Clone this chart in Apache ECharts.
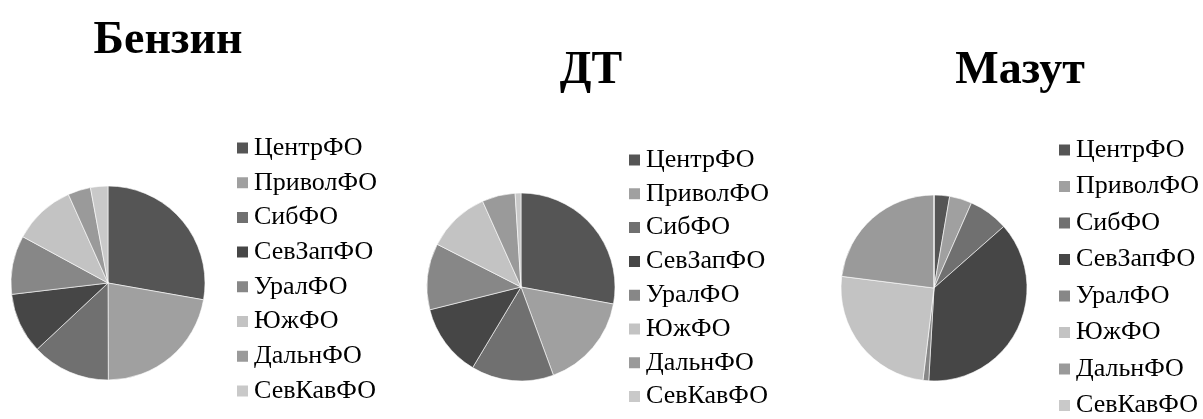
<!DOCTYPE html>
<html>
<head>
<meta charset="utf-8">
<script src="https://cdn.jsdelivr.net/npm/echarts@6/dist/echarts.min.js"></script>
<style>
html, body { margin: 0; padding: 0; background: #fff; }
#main { width: 1203px; height: 419px; }
</style>
</head>
<body>
<div id="main"></div>
<script>
var regions = ['ЦентрФО', 'ПриволФО', 'СибФО', 'СевЗапФО', 'УралФО', 'ЮжФО', 'ДальнФО', 'СевКавФО'];
var colors = ['#555555', '#a0a0a0', '#707070', '#464646', '#878787', '#c3c3c3', '#9a9a9a', '#c9c9c9'];

var titles = ['Бензин', 'ДТ', 'Мазут'];
var benzin = [27.8, 22.2, 13.1, 10.1, 9.8, 10.4, 3.8, 2.9];
var dt = [27.9, 16.5, 14.2, 12.5, 11.4, 10.8, 5.7, 1.0];
var mazut = [2.7, 3.9, 6.9, 37.4, 1.0, 25.1, 23.0, 0];

var font = '"Liberation Serif", "Times New Roman", serif';

function toData(values) {
    var out = [];
    for (let i = 0; i < regions.length; i++) {
        out.push({ name: regions[i], value: values[i], itemStyle: { color: colors[i] } });
    }
    return out;
}

function pie(values, center, radius) {
    return {
        type: 'pie',
        center: center,
        radius: radius,
        startAngle: 90,
        clockwise: true,
        label: { show: false },
        labelLine: { show: false },
        emphasis: { disabled: true },
        itemStyle: { borderColor: '#fff', borderWidth: 0.6 },
        data: toData(values)
    };
}

// height is set large so the column never wraps (the last item may run off the bottom)
function legend(left, top, gap) {
    return {
        orient: 'vertical',
        left: left,
        top: top,
        height: 360,
        icon: 'rect',
        itemWidth: 13,
        itemHeight: 13,
        itemGap: gap,
        selectedMode: false,
        textStyle: { fontFamily: font, fontSize: 26, color: '#000' },
        data: regions
    };
}

function title(text, x, y) {
    return {
        text: text,
        left: x,
        top: y,
        textAlign: 'center',
        textStyle: { fontFamily: font, fontWeight: 'bold', fontSize: 46, color: '#000' }
    };
}

var option = {
    animation: false,
    title: [
        title(titles[0], 163, 13),
        title(titles[1], 586, 43),
        title(titles[2], 1015, 43)
    ],
    legend: [
        legend(230, 130, 8.7),
        legend(622, 142, 7.8),
        legend(1052, 132, 10.5)
    ],
    series: [
        pie(benzin, [108, 283], 97),
        pie(dt, [521, 287], 94),
        pie(mazut, [934, 288], 93)
    ]
};

var myChart = echarts.init(document.getElementById('main'));
option && myChart.setOption(option);
</script>
</body>
</html>
